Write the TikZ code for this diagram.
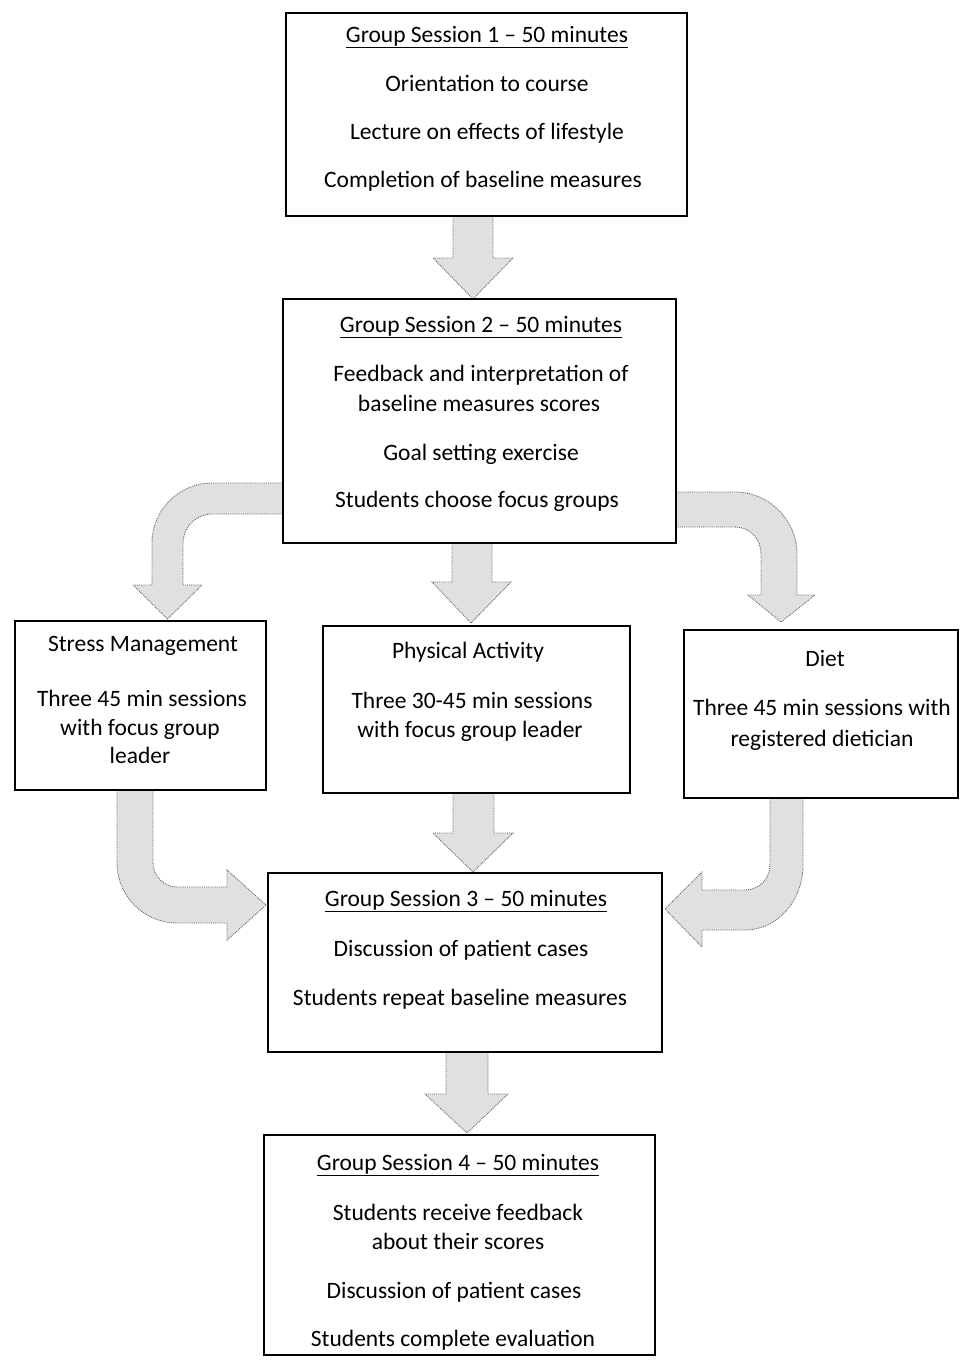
\documentclass[tikz,border=0pt]{standalone}
\usepackage{fontspec}
\setmainfont{Carlito}
\begin{document}
\begin{tikzpicture}[x=1pt,y=-1pt,
  box/.style={draw=black, line width=1.5pt, fill=white, inner sep=0pt},
  txt/.style={anchor=mid, inner sep=0pt, yshift=-6pt, font=\fontsize{23.5}{28}\selectfont},
  blockarrow/.style={fill=black!12, draw=black!60, densely dotted, line width=0.9pt}]
\useasboundingbox (0,0) rectangle (962,1360);

% ---------- block arrows (behind boxes)
% box1 -> box2
\draw[blockarrow] (453,214) -- (453,258) -- (433,258) -- (473,299) -- (513,258) -- (493,258) -- (493,214) -- cycle;
% box2 -> physical activity
\draw[blockarrow] (452,541) -- (452,582) -- (432,582) -- (471,623) -- (511,582) -- (492,582) -- (492,541) -- cycle;
% physical activity -> box3
\draw[blockarrow] (453,791) -- (453,833) -- (433,833) -- (473,872) -- (513,833) -- (494,833) -- (494,791) -- cycle;
% box3 -> box4
\draw[blockarrow] (446,1050) -- (446,1094) -- (425,1094) -- (467,1133) -- (508,1094) -- (488,1094) -- (488,1050) -- cycle;
% box2 -> stress management (curved)
\draw[blockarrow] (286,483) -- (212,483) .. controls (179,483) and (152,510) .. (152,543)
  -- (152,585) -- (133,585) -- (167.5,619) -- (202,585) -- (183,585) -- (183,543)
  .. controls (183,527) and (196,514) .. (212,514) -- (286,514) -- cycle;
% box2 -> diet (curved)
\draw[blockarrow] (673,492) -- (735,492) .. controls (769,492) and (797,520) .. (797,554)
  -- (797,595) -- (815,595) -- (781,622) -- (748,595) -- (761,595) -- (761,554)
  .. controls (761,539) and (750,527) .. (735,527) -- (673,527) -- cycle;
% stress management -> box3 (curved)
\draw[blockarrow] (117,788) -- (117,863) .. controls (117,896) and (144,923) .. (177,923)
  -- (227,923) -- (227,940) -- (266,905) -- (227,870) -- (227,887) -- (177,887)
  .. controls (164,887) and (153,876) .. (153,863) -- (153,788) -- cycle;
% diet -> box3 (curved)
\draw[blockarrow] (803,796) -- (803,865) .. controls (803,901) and (777,930) .. (745,930)
  -- (702,930) -- (702,947) -- (665,909) -- (702,872) -- (702,890) -- (745,890)
  .. controls (759,890) and (770,879) .. (770,865) -- (770,796) -- cycle;

% ---------- boxes
\node[box, minimum width=401, minimum height=203] (b1) at (486.5,114.5) {};
\node[box, minimum width=393, minimum height=244] (b2) at (479.5,421) {};
\node[box, minimum width=251, minimum height=169] (sm) at (140.5,705.5) {};
\node[box, minimum width=307, minimum height=167] (pa) at (476.5,709.5) {};
\node[box, minimum width=274, minimum height=168] (di) at (821,714) {};
\node[box, minimum width=394, minimum height=179] (b3) at (465,962.5) {};
\node[box, minimum width=391, minimum height=220] (b4) at (459.5,1245) {};

% ---------- texts
\node[txt] (b1a) at (487,34) {\underline{Group Session 1 – 50 minutes}};
\node[txt] (b1b) at (487,83) {Orientation to course};
\node[txt] (b1c) at (487,131) {Lecture on effects of lifestyle};
\node[txt] (b1d) at (483,179) {Completion of baseline measures};

\node[txt] (b2a) at (481,324) {\underline{Group Session 2 – 50 minutes}};
\node[txt] (b2b) at (481,373) {Feedback and interpretation of};
\node[txt] (b2c) at (479,403) {baseline measures scores};
\node[txt] (b2d) at (481,452) {Goal setting exercise};
\node[txt] (b2e) at (477,499) {Students choose focus groups};

\node[txt] (sma) at (143,643) {Stress Management};
\node[txt] (smb) at (142,698) {Three 45 min sessions};
\node[txt] (smc) at (140,727) {with focus group};
\node[txt] (smd) at (140,755) {leader};

\node[txt] (paa) at (468,650) {Physical Activity};
\node[txt] (pab) at (472,700) {Three 30-45 min sessions};
\node[txt] (pac) at (470,729) {with focus group leader};

\node[txt] (dia) at (825,658) {Diet};
\node[txt] (dib) at (822,707) {Three 45 min sessions with};
\node[txt] (dic) at (822,738) {registered dietician};

\node[txt] (b3a) at (466,898) {\underline{Group Session 3 – 50 minutes}};
\node[txt] (b3b) at (461,948) {Discussion of patient cases};
\node[txt] (b3c) at (460,997) {Students repeat baseline measures};

\node[txt] (b4a) at (458,1162) {\underline{Group Session 4 – 50 minutes}};
\node[txt] (b4b) at (458,1212) {Students receive feedback};
\node[txt] (b4c) at (458,1241) {about their scores};
\node[txt] (b4d) at (454,1290) {Discussion of patient cases};
\node[txt] (b4e) at (453,1338) {Students complete evaluation};
\end{tikzpicture}
\end{document}
